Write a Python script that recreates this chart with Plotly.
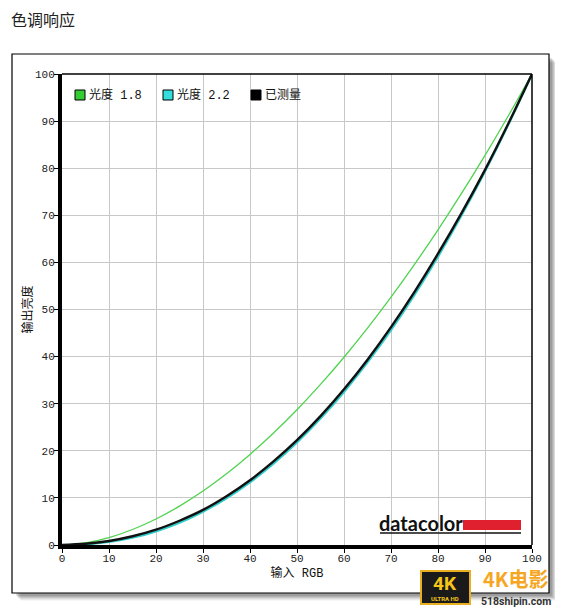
import plotly.graph_objects as go

# ---- data ----
x_vals = [0, 5, 10, 15, 20, 25, 30, 35, 40, 45, 50, 55, 60, 65, 70, 75, 80, 85, 90, 95, 100]
gamma18 = [0, 0.46, 1.58, 3.29, 5.52, 8.25, 11.45, 15.11, 19.22, 23.76, 28.72, 34.09,
           39.87, 46.05, 52.62, 59.58, 66.92, 74.64, 82.72, 91.18, 100]
gamma22 = [0, 0.14, 0.63, 1.54, 2.90, 4.74, 7.08, 9.93, 13.32, 17.26, 21.76, 26.84,
           32.50, 38.76, 45.62, 53.11, 61.21, 69.94, 79.31, 89.33, 100]
measured = [0, 0.25, 0.85, 1.85, 3.25, 5.15, 7.45, 10.35, 13.75, 17.75, 22.25, 27.35,
            33.05, 39.35, 46.25, 53.75, 61.85, 70.45, 79.65, 89.55, 100]
series_names = ["光度 1.8", "光度 2.2", "已测量"]
x_ticks = [0, 10, 20, 30, 40, 50, 60, 70, 80, 90, 100]
y_ticks = [0, 10, 20, 30, 40, 50, 60, 70, 80, 90, 100]

# page is rendered with an 8px body margin
OFF = 8
W, H = 563 - OFF, 609 - OFF
# plot area in page pixels
L, R, T, B = 62, 532, 74, 545

def px(xp):
    return (xp - L) / (R - L)

def py(yp):
    return (B - yp) / (B - T)

fig = go.Figure()
line_colors = ["#4fd34f", "#33cccc", "#111111"]
line_widths = [1.3, 2.2, 2.4]
for name, ys, c, w in zip(series_names, [gamma18, gamma22, measured], line_colors, line_widths):
    fig.add_trace(go.Scatter(x=x_vals, y=ys, mode="lines", line=dict(color=c, width=w, shape="spline"),
                             name=name, showlegend=False, hoverinfo="skip"))

shapes = []
annotations = []
# outer box shadow
for i, op in enumerate([0.10, 0.10, 0.09, 0.07, 0.05, 0.03]):
    o = i + 1
    shapes.append(dict(type="rect", xref="paper", yref="paper",
                       x0=px(12 + o + 3), x1=px(549 + o + 2), y0=py(54 + o + 3), y1=py(593 + o + 2),
                       line=dict(width=0), fillcolor=f"rgba(0,0,0,{op})", layer="below"))
shapes.append(dict(type="rect", xref="paper", yref="paper",
                   x0=px(12), x1=px(549), y0=py(54), y1=py(593),
                   line=dict(color="#000000", width=1.2), fillcolor="#ffffff", layer="below"))
# top/right plot border
shapes.append(dict(type="line", xref="paper", yref="paper", x0=0, x1=1, y0=1, y1=1,
                   line=dict(color="#000000", width=1.5)))
shapes.append(dict(type="line", xref="paper", yref="paper", x0=1, x1=1, y0=0, y1=1,
                   line=dict(color="#000000", width=1.5)))

# legend (squares + labels)
legend_colors = ["#33cc33", "#33dddd", "#000000"]
for i, (name, c) in enumerate(zip(series_names, legend_colors)):
    sx = 75 + i * 88
    shapes.append(dict(type="rect", xref="paper", yref="paper",
                       x0=px(sx), x1=px(sx + 10), y0=py(100), y1=py(90),
                       line=dict(color="#000000", width=1), fillcolor=c))
    annotations.append(dict(text=name, xref="paper", yref="paper", x=px(sx + 12), y=py(95),
                            xanchor="left", yanchor="middle", showarrow=False,
                            font=dict(size=12, color="#111111",
                                      family="Liberation Mono, Noto Sans CJK SC")))

# datacolor logo
shapes.append(dict(type="rect", xref="paper", yref="paper", x0=px(463), x1=px(521), y0=py(530), y1=py(520),
                   line=dict(width=0), fillcolor="#e0202e"))
shapes.append(dict(type="line", xref="paper", yref="paper", x0=px(380), x1=px(521), y0=py(533), y1=py(533),
                   line=dict(color="#111111", width=1.5)))
# watermark logo box
shapes.append(dict(type="rect", xref="paper", yref="paper", x0=px(421), x1=px(470), y0=py(571), y1=py(604),
                   line=dict(color="#e8b020", width=2), fillcolor="#1a1a1a"))

annotations += [
    dict(text="色调响应", xref="paper", yref="paper", x=px(10), y=py(19), xanchor="left", yanchor="middle",
         showarrow=False, borderpad=0, font=dict(size=16, color="#222222", family="Noto Sans CJK SC")),
    dict(text="<b>datacolor</b>", xref="paper", yref="paper", x=px(421), y=py(523), xanchor="center",
         yanchor="middle", showarrow=False, font=dict(size=20, color="#111111", family="Lato")),
    dict(text="<b>4K</b>", xref="paper", yref="paper", x=px(445), y=py(583), xanchor="center",
         yanchor="middle", showarrow=False, font=dict(size=19, color="#f5c518", family="Roboto")),
    dict(text="<b>ULTRA HD</b>", xref="paper", yref="paper", x=px(445), y=py(598), xanchor="center",
         yanchor="middle", showarrow=False, font=dict(size=6, color="#f5c518", family="Roboto")),
    dict(text="<b>4K电影</b>", xref="paper", yref="paper", x=px(516), y=py(578), xanchor="center",
         yanchor="middle", showarrow=False, borderpad=0,
         font=dict(size=20, color="#f5a623", family="Noto Sans CJK SC")),
    dict(text="<b>518shipin.com</b>", xref="paper", yref="paper", x=px(516), y=py(601), xanchor="center",
         yanchor="middle", showarrow=False, borderpad=0,
         font=dict(size=10.5, color="#333333", family="Roboto")),
]

tick_font = dict(size=11, color="#222222", family="Liberation Mono, Noto Sans CJK SC")
fig.update_layout(
    width=W, height=H,
    margin=dict(l=L - OFF, r=W - (R - OFF), t=T - OFF, b=H - (B - OFF)),
    paper_bgcolor="#ffffff", plot_bgcolor="#ffffff",
    showlegend=False,
    xaxis=dict(range=[0, 100], tickvals=x_ticks, ticktext=[str(v) for v in x_ticks],
               showgrid=True, gridcolor="#c8c8c8", gridwidth=1, zeroline=False,
               showline=True, linecolor="#000000", linewidth=4, ticks="outside", ticklen=4,
               tickcolor="#000000", tickfont=tick_font, ticklabelstandoff=-4,
               title=dict(text="输入 RGB", font=dict(size=12, color="#111111",
                                                     family="Liberation Mono, Noto Sans CJK SC"),
                          standoff=2)),
    yaxis=dict(range=[0, 100], tickvals=y_ticks, ticktext=[str(v) for v in y_ticks],
               showgrid=True, gridcolor="#c8c8c8", gridwidth=1, zeroline=False,
               showline=True, linecolor="#000000", linewidth=4, ticks="outside", ticklen=4,
               tickcolor="#000000", tickfont=tick_font, ticklabelstandoff=-3,
               title=dict(text="输出亮度", font=dict(size=12, color="#111111", family="Noto Sans CJK SC"),
                          standoff=1)),
    shapes=shapes,
    annotations=annotations,
)

fig.write_html("out.html")
